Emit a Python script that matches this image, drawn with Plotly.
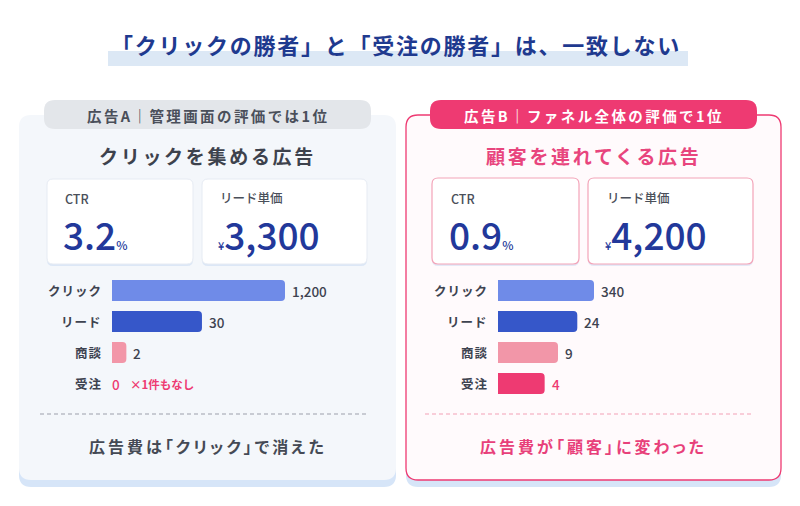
import plotly.graph_objects as go

W, H = 800, 506

# ---------------- data ----------------
stages = ["クリック", "リード", "商談", "受注"]
a_counts = [1200, 30, 2, 0]
b_counts = [340, 24, 9, 4]
# drawn bar length, % of the panel's longest bar
a_bar_pct = [100, 52, 8.3, 0]
b_bar_pct = [100, 82.6, 62.5, 48.6]
bar_colors = ["#6f8be8", "#3657c9", "#f296a8", "#ee3a72"]

a_ctr, b_ctr = "3.2", "0.9"
a_cpl, b_cpl = "3,300", "4,200"

title = "「クリックの勝者」と「受注の勝者」は、一致しない"
a_badge = "広告A｜管理画面の評価では1位"
b_badge = "広告B｜ファネル全体の評価で1位"
a_sub = "クリックを集める広告"
b_sub = "顧客を連れてくる広告"
a_foot = "広告費は「クリック」で消えた"
b_foot = "広告費が「顧客」に変わった"
a_note = "×1件もなし"

FONT = "Noto Sans CJK JP"
NAVY = "#22389a"
PINK = "#ee3a72"


def X(x):
    return x / W


def Y(y):
    return 1 - y / H


def rr(x0, y0, x1, y1, r, fill, line=None, lw=0):
    p = (f"M {X(x0+r)},{Y(y0)} L {X(x1-r)},{Y(y0)} Q {X(x1)},{Y(y0)} {X(x1)},{Y(y0+r)} "
         f"L {X(x1)},{Y(y1-r)} Q {X(x1)},{Y(y1)} {X(x1-r)},{Y(y1)} "
         f"L {X(x0+r)},{Y(y1)} Q {X(x0)},{Y(y1)} {X(x0)},{Y(y1-r)} "
         f"L {X(x0)},{Y(y0+r)} Q {X(x0)},{Y(y0)} {X(x0+r)},{Y(y0)} Z")
    return dict(type="path", path=p, xref="paper", yref="paper", fillcolor=fill,
                line=dict(color=line or fill, width=lw), layer="below")


def spaced(s, ls, palt=False):
    st = f"letter-spacing:{ls}px"
    if palt:
        st += ";font-feature-settings:\"palt\" 1"
    return f"<span style='{st}'>{s}</span>"


shapes = []
annots = []


def txt(x, y, s, size, color, xanchor="center", weight=700, yanchor="middle"):
    annots.append(dict(x=X(x), y=Y(y), xref="paper", yref="paper", text=s,
                       showarrow=False, xanchor=xanchor, yanchor=yanchor,
                       font=dict(family=FONT, size=size, color=color, weight=weight)))


# title
shapes.append(dict(type="rect", xref="paper", yref="paper", x0=X(108), x1=X(688),
                   y0=Y(66), y1=Y(51), fillcolor="#dce8f5", line=dict(width=0), layer="below"))
txt(396, 44, spaced(title, 1.75), 22, "#1f3a8f")

# panels
shapes.append(rr(19, 119, 396, 487, 12, "#d6e5f8"))
shapes.append(rr(19, 115, 396, 480, 12, "#f4f7fb"))
shapes.append(rr(406, 119, 781, 487, 12, "#d6e5f8"))
shapes.append(rr(406, 115, 781, 480, 12, "#fffafc", PINK, 1.3))

# badges
shapes.append(rr(44, 100, 371, 129, 11, "#e3e6ea"))
shapes.append(rr(430, 100, 757, 129, 11, PINK))
txt(207.5, 115, spaced(a_badge, 2.4), 14.5, "#4a4f5a")
txt(593.5, 115, spaced(b_badge, 2.4), 14.5, "#ffffff")

# subtitles
txt(207.5, 155, spaced(a_sub, 2.7), 19, "#3d424d")
txt(593.5, 155, spaced(b_sub, 2.7), 19, "#e8457d")

# KPI cards
for (x0, x1) in [(47, 193), (202, 367)]:
    shapes.append(rr(x0, 181, x1, 266, 6, "#dce7f6"))
    shapes.append(rr(x0, 179, x1, 264, 6, "#ffffff", "#e6ebf3", 1))
for (x0, x1) in [(432, 579), (588, 753)]:
    shapes.append(rr(x0, 181, x1, 266, 6, "#e3e9f7"))
    shapes.append(rr(x0, 178, x1, 264, 6, "#ffffff", "#f3a3b8", 1.2))

for cx, lx, ctr, cpl in [(63, 218, a_ctr, a_cpl), (449, 605, b_ctr, b_cpl)]:
    txt(cx, 198.5, "CTR", 12.5, "#4a4f5a", xanchor="left", weight=500)
    txt(lx, 198, "リード単価", 12.5, "#4a4f5a", xanchor="left", weight=500)
    txt(cx - 2, 233.5, f"{ctr}<span style='font-size:12px'>%</span>", 37, NAVY,
        xanchor="left", weight=500)
    txt(lx - 2, 233.5, f"<span style='font-size:11px'>¥</span>{cpl}", 37, NAVY,
        xanchor="left", weight=500)

# dashed separators
shapes.append(dict(type="line", xref="paper", yref="paper", x0=X(40), x1=X(367),
                   y0=Y(414), y1=Y(414), line=dict(color="#b9bdc6", width=1.3, dash="4px,3px")))
shapes.append(dict(type="line", xref="paper", yref="paper", x0=X(425), x1=X(753),
                   y0=Y(414), y1=Y(414), line=dict(color="#f7bfcd", width=1.3, dash="4px,3px")))

# footers
txt(207.5, 446, spaced(a_foot, 3.0, palt=True), 16, "#454a55")
txt(593.5, 446, spaced(b_foot, 3.0, palt=True), 16, "#e8407a")

# ---------------- bars ----------------
fig = go.Figure()
fig.add_trace(go.Bar(x=a_bar_pct, y=stages, orientation="h", marker=dict(color=bar_colors, line=dict(width=0)),
                     width=0.68, xaxis="x", yaxis="y", hoverinfo="skip"))
fig.add_trace(go.Bar(x=b_bar_pct, y=stages, orientation="h", marker=dict(color=bar_colors, line=dict(width=0)),
                     width=0.68, xaxis="x2", yaxis="y2", hoverinfo="skip"))

for xa, ya, pcts, counts in [("x", "y", a_bar_pct, a_counts), ("x2", "y2", b_bar_pct, b_counts)]:
    for i, (st, p, c) in enumerate(zip(stages, pcts, counts)):
        annots.append(dict(x=0, y=st, xref=xa, yref=ya, text=spaced(st, 1), showarrow=False,
                           xanchor="right", xshift=-8,
                           font=dict(family=FONT, size=12.5, color="#3e4350", weight=700)))
        col = PINK if (i == 3) else "#3e4350"
        annots.append(dict(x=p, y=st, xref=xa, yref=ya, text=f"{c:,}", showarrow=False,
                           xanchor="left", xshift=5 if p > 0 else -2,
                           font=dict(family=FONT, size=13.5, color=col, weight=500)))
        if c == 0:
            annots.append(dict(x=p, y=st, xref=xa, yref=ya, text=a_note, showarrow=False,
                               xanchor="left", xshift=16,
                               font=dict(family=FONT, size=11.5, color=PINK, weight=700)))

ydom = [Y(399), Y(275)]
axcommon = dict(showgrid=False, zeroline=False, showticklabels=False, fixedrange=True, showline=False)
fig.update_layout(
    width=W, height=H, margin=dict(l=0, r=0, t=0, b=0),
    paper_bgcolor="#ffffff", plot_bgcolor="rgba(0,0,0,0)",
    showlegend=False, barcornerradius=4,
    xaxis=dict(domain=[X(112), X(285)], range=[0, 100], anchor="y", **axcommon),
    yaxis=dict(domain=ydom, autorange="reversed", anchor="x", **axcommon),
    xaxis2=dict(domain=[X(498), X(594)], range=[0, 100], anchor="y2", **axcommon),
    yaxis2=dict(domain=ydom, autorange="reversed", anchor="x2", **axcommon),
    shapes=shapes, annotations=annots,
)

fig.write_html("out.html")
